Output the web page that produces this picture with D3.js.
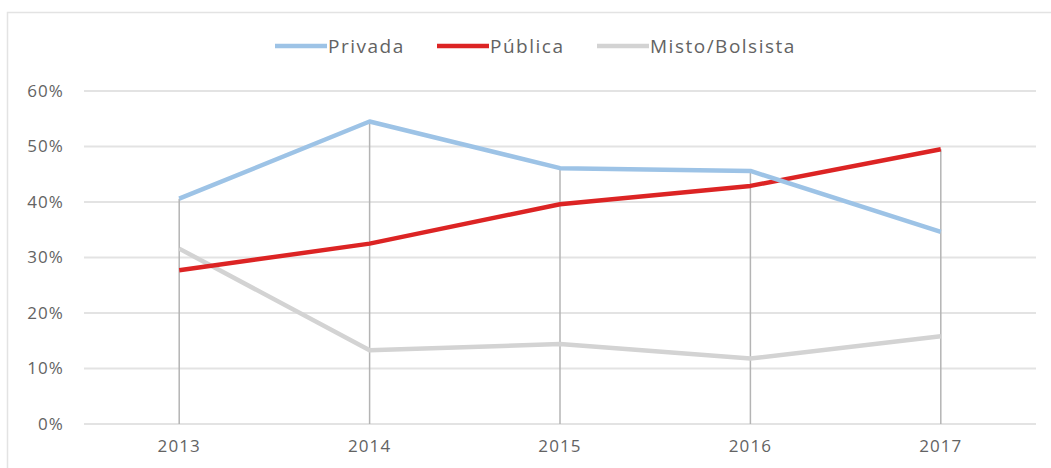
<!DOCTYPE html>
<html>
<head>
<meta charset="utf-8">
<script src="https://cdn.jsdelivr.net/npm/d3@7"></script>
<style>
  body { margin: 0; background: #fff; }
  text { font-family: "Open Sans", sans-serif; fill: #636363; }
</style>
</head>
<body>
<div id="container"></div>
<script>
/* CONSTANTS AND GLOBALS */
const width = 1051,
  height = 468,
  margin = { top: 91, bottom: 44, left: 84, right: 15 };

/* DATA */
const years = ["2013", "2014", "2015", "2016", "2017"];
const privada = [0.406, 0.545, 0.461, 0.456, 0.346];
const publica = [0.277, 0.325, 0.396, 0.429, 0.495];
const misto = [0.316, 0.133, 0.144, 0.118, 0.158];
const seriesNames = ["Privada", "Pública", "Misto/Bolsista"];
const yTicks = [0, 0.1, 0.2, 0.3, 0.4, 0.5, 0.6];

const series = [
  { name: seriesNames[0], values: privada, color: "#9dc3e6" },
  { name: seriesNames[1], values: publica, color: "#dc2424" },
  { name: seriesNames[2], values: misto, color: "#d3d3d3" }
];

// SCALES
const xScale = d3.scaleBand()
  .domain(years)
  .range([margin.left, width - margin.right]);

const yScale = d3.scaleLinear()
  .domain([0, 0.6])
  .range([height - margin.bottom, margin.top]);

// SVG
const svg = d3.select("#container")
  .append("svg")
  .attr("width", width)
  .attr("height", height);

// outer frame
svg.append("rect")
  .attr("x", 7.5)
  .attr("y", 12.5)
  .attr("width", 1100)
  .attr("height", 500)
  .attr("fill", "none")
  .attr("stroke", "#e3e3e3")
  .attr("stroke-width", 1.5);

// GRID
svg.append("g")
  .selectAll("line")
  .data(yTicks)
  .join("line")
    .attr("x1", margin.left)
    .attr("x2", width - margin.right)
    .attr("y1", d => yScale(d))
    .attr("y2", d => yScale(d))
    .attr("stroke", "#e3e3e3")
    .attr("stroke-width", 2);

// AXES
const yAxis = d3.axisLeft(yScale)
  .tickValues(yTicks)
  .tickFormat(d3.format(".0%"))
  .tickSize(0)
  .tickPadding(20);

svg.append("g")
  .attr("transform", `translate(${margin.left},0)`)
  .call(yAxis)
  .call(g => g.select(".domain").remove())
  .selectAll("text")
    .attr("font-size", 17)
    .attr("letter-spacing", 1.1)
    .style("font-family", "'Open Sans', sans-serif")
    .attr("fill", "#636363");

const xAxis = d3.axisBottom(xScale).tickSize(0).tickPadding(16);

svg.append("g")
  .attr("transform", `translate(0,${height - margin.bottom})`)
  .call(xAxis)
  .call(g => g.select(".domain").remove())
  .selectAll("text")
    .attr("font-size", 17)
    .attr("letter-spacing", 1.1)
    .style("font-family", "'Open Sans', sans-serif")
    .attr("fill", "#636363");

// DROP LINES
const cx = d => xScale(d) + xScale.bandwidth() / 2;

svg.append("g")
  .selectAll("line")
  .data(years)
  .join("line")
    .attr("x1", cx)
    .attr("x2", cx)
    .attr("y1", (d, i) => yScale(d3.max(series, s => s.values[i])))
    .attr("y2", yScale(0))
    .attr("stroke", "#b4b4b4")
    .attr("stroke-width", 1.5);

// LINES
const lineGen = d3.line()
  .x((d, i) => cx(years[i]))
  .y(d => yScale(d));

svg.append("g")
  .selectAll("path")
  .data(series.slice().reverse())
  .join("path")
    .attr("d", d => lineGen(d.values))
    .attr("fill", "none")
    .attr("stroke", d => d.color)
    .attr("stroke-width", 4.5)
    .attr("stroke-linejoin", "round");

// LEGEND
const legendX = [275, 437, 597];
const legend = svg.append("g")
  .selectAll("g")
  .data(series)
  .join("g")
    .attr("transform", (d, i) => `translate(${legendX[i]},46)`);

legend.append("line")
  .attr("x1", 0)
  .attr("x2", 52)
  .attr("stroke", d => d.color)
  .attr("stroke-width", 4.5);

legend.append("text")
  .attr("x", 53)
  .attr("dy", "0.35em")
  .attr("font-size", 19)
  .attr("letter-spacing", 1.5)
  .text(d => d.name);
</script>
</body>
</html>
